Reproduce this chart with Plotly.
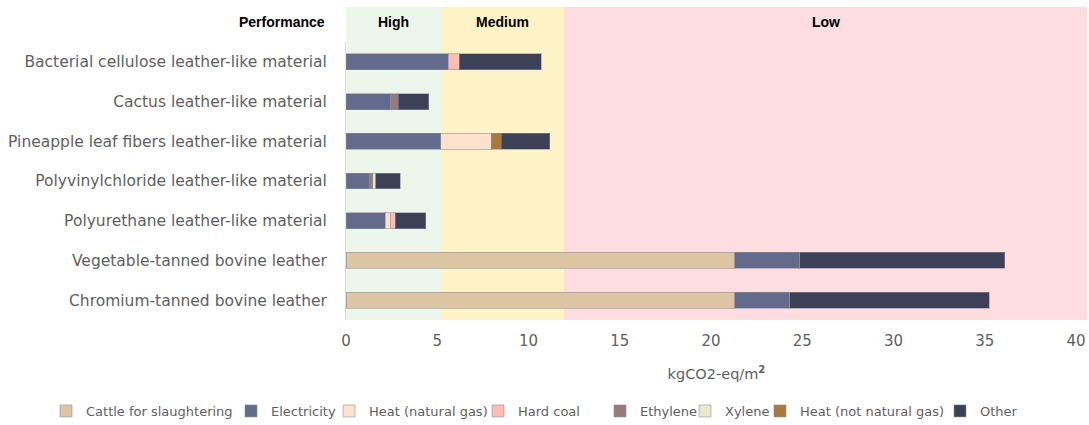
import plotly.graph_objects as go

categories = [
    "Bacterial cellulose leather-like material",
    "Cactus leather-like material",
    "Pineapple leaf fibers leather-like material",
    "Polyvinylchloride leather-like material",
    "Polyurethane leather-like material",
    "Vegetable-tanned bovine leather",
    "Chromium-tanned bovine leather",
]
series_names = ["Cattle for slaughtering", "Electricity", "Heat (natural gas)", "Hard coal",
                "Ethylene", "Xylene", "Heat (not natural gas)", "Other"]
cattle = [0, 0, 0, 0, 0, 21.3, 21.3]
electricity = [5.6, 2.45, 5.2, 1.3, 2.15, 3.55, 3.0]
heat_ng = [0, 0, 2.75, 0, 0.27, 0, 0]
hard_coal = [0.6, 0, 0, 0, 0.27, 0, 0]
ethylene = [0, 0.42, 0, 0.17, 0, 0, 0]
xylene = [0, 0, 0, 0.15, 0, 0, 0]
heat_other = [0, 0, 0.55, 0, 0, 0, 0]
other = [4.5, 1.65, 2.65, 1.35, 1.68, 11.25, 10.95]
series_values = [cattle, electricity, heat_ng, hard_coal, ethylene, xylene, heat_other, other]
colors = ["#dcc5a2", "#636b8d", "#fde1cc", "#fdbdb0", "#977a7f", "#e8e9c6", "#a8783c", "#3c4157"]

bands = [("High", 0, 5.2, "#edf6ea"), ("Medium", 5.2, 11.95, "#fef3c6"), ("Low", 11.95, 40.6, "#fddde0")]
x_ticks = [0, 5, 10, 15, 20, 25, 30, 35, 40]

# legend text start positions (page px)
legend_text_x = [83, 268, 366, 515, 637, 722, 797, 977]

FONT = "DejaVu Sans"
GREY = "#5f5f5f"
W, H = 1089, 425
L, R, T, B = 346, 2, 42, 105
PW, PH = W - L - R, H - T - B

fig = go.Figure()
for i, (name, vals, c) in enumerate(zip(series_names, series_values, colors)):
    fig.add_trace(go.Bar(
        y=categories, x=vals, name=name, orientation="h", showlegend=True,
        legend=f"legend{i + 2}",
        marker=dict(color=c, line=dict(color="rgba(140,140,150,0.55)", width=1)),
    ))

header_top = 1 + 35 / PH
for label, x0, x1, col in bands:
    fig.add_shape(type="rect", xref="x", yref="paper", x0=x0, x1=x1, y0=0, y1=header_top,
                  fillcolor=col, line=dict(width=0), layer="below")
    fig.add_annotation(x=(x0 + x1) / 2, xref="x", y=1 + 20 / PH, yref="paper", yanchor="middle",
                       text=f"<b>{label}</b>", showarrow=False,
                       font=dict(family="Liberation Sans", size=14, color="#000"))
fig.add_annotation(x=(327 - L) / PW, xref="paper", y=1 + 20 / PH, yref="paper",
                   xanchor="right", yanchor="middle",
                   text="<b>Performance</b>", showarrow=False,
                   font=dict(family="Liberation Sans", size=14, color="#000"))

legends = {}
for i, tx in enumerate(legend_text_x):
    legends[f"legend{i + 2}"] = dict(
        orientation="h", xref="container", x=(tx - 37) / W, xanchor="left",
        yref="container", y=(H - 411) / H, yanchor="middle",
        font=dict(size=13, color=GREY), itemwidth=30, bgcolor="rgba(0,0,0,0)")

fig.update_layout(
    width=W, height=H, showlegend=True,
    barmode="stack", bargap=0.6,
    margin=dict(l=L, r=R, t=T, b=B, autoexpand=False),
    plot_bgcolor="white", paper_bgcolor="white",
    font=dict(family=FONT, size=15.5, color=GREY),
    xaxis=dict(range=[0, 40.6], tickvals=x_ticks, showgrid=False, zeroline=False, automargin=False,
               ticks="", ticklabelstandoff=10, tickfont=dict(size=15), ticklabeloverflow="allow",
               title=dict(text="kgCO2-eq/m<b><sup>2</sup></b>", standoff=19,
                          font=dict(size=14.5, color=GREY))),
    yaxis=dict(categoryorder="array", categoryarray=categories[::-1], showgrid=False, automargin=False,
               showline=True, linecolor="#dddddd", linewidth=1, ticks="", ticklabelstandoff=15),
    **legends,
)
fig.write_html("out.html", config={"displayModeBar": False},
               post_script="document.body.style.margin='0';"
                           "document.documentElement.style.overflow='hidden';"
                           "document.body.style.overflow='hidden';")
